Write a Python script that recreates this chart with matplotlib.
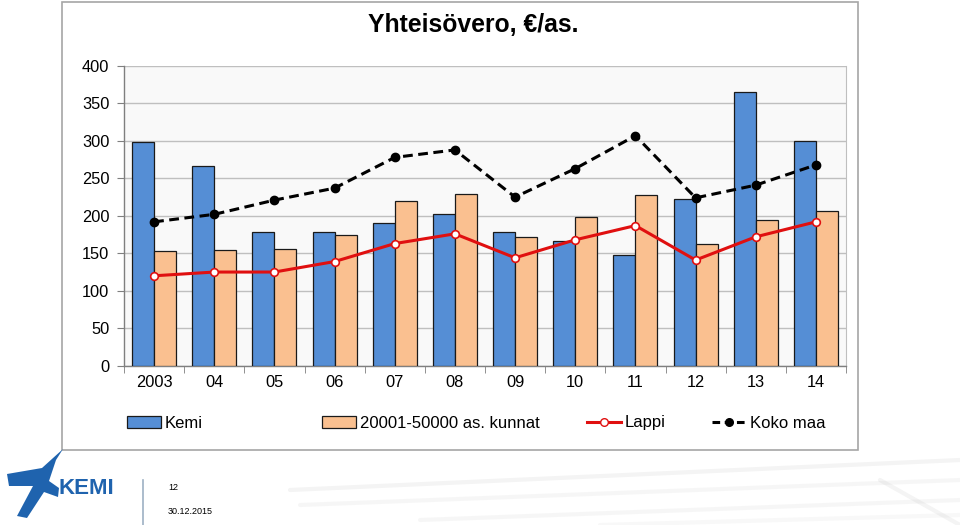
import matplotlib
matplotlib.use("Agg")
import matplotlib.pyplot as plt
import numpy as np
from matplotlib.patches import Rectangle, Polygon, Patch
from matplotlib.lines import Line2D

plt.rcParams['font.family'] = ['Liberation Sans', 'DejaVu Sans']

years = ["2003", "04", "05", "06", "07", "08", "09", "10", "11", "12", "13", "14"]
kemi = [299, 267, 178, 178, 190, 202, 179, 166, 148, 222, 365, 300]
kunnat = [153, 155, 156, 174, 220, 229, 172, 199, 228, 163, 194, 207]
lappi = [120, 125, 125, 139, 163, 176, 144, 168, 187, 141, 172, 192]
koko = [192, 202, 221, 237, 278, 288, 225, 263, 307, 224, 241, 268]

title = "Yhteisövero, €/as."
series_names = ["Kemi", "20001-50000 as. kunnat", "Lappi", "Koko maa"]

W, H = 960, 525
fig = plt.figure(figsize=(W / 100, H / 100), dpi=100)

def fx(x):
    return x / W

def fy(y):
    return 1 - y / H

# chart frame
fig.patches.append(Rectangle((fx(62), fy(450)), fx(858) - fx(62), fy(2) - fy(450),
                             transform=fig.transFigure, fill=False,
                             edgecolor='#A6A6A6', linewidth=1.2, zorder=0))

ax = fig.add_axes([fx(124), fy(365.7), fx(846) - fx(124), fy(66) - fy(365.7)])
ax.set_facecolor('#F9F9F9')

x = np.arange(len(years))
bw = 0.366
ax.bar(x - bw / 2, kemi, width=bw, color='#558ED5', edgecolor='#1A1A1A', linewidth=0.9, zorder=3)
ax.bar(x + bw / 2, kunnat, width=bw, color='#FAC090', edgecolor='#1A1A1A', linewidth=0.9, zorder=3)
ax.plot(x, lappi, color='#E01010', linewidth=2.2, marker='o', markersize=5.5,
        markerfacecolor='white', markeredgecolor='#E01010', markeredgewidth=1.2, zorder=5)
ax.plot(x, koko, color='black', linewidth=2.2, linestyle=(0, (3.2, 1.8)), marker='o',
        markersize=6, markerfacecolor='black', markeredgecolor='black', zorder=6)

ax.set_xlim(-0.5, len(years) - 0.5)
ax.set_ylim(0, 400)
ax.set_yticks(np.arange(0, 401, 50))
ax.yaxis.grid(True, color='#BFBFBF', linewidth=1.0, zorder=0)
ax.set_axisbelow(True)
ax.set_xticks(x)
ax.set_xticklabels(years)
ax.set_xticks(np.arange(-0.5, len(years), 1), minor=True)
ax.tick_params(axis='x', which='major', length=0, labelsize=11.8, pad=7, colors='black')
ax.tick_params(axis='x', which='minor', length=5, color='#7F7F7F', direction='out')
ax.tick_params(axis='y', which='major', length=5, color='#7F7F7F', labelsize=11.8, pad=5.5)
for s in ['left', 'bottom']:
    ax.spines[s].set_color('#7F7F7F')
    ax.spines[s].set_linewidth(1.0)
ax.spines['right'].set_color('#BFBFBF')
ax.spines['top'].set_visible(False)

fig.text(fx(473), fy(25), title, ha='center', va='center', fontsize=17.8, fontweight='bold')

# legend entries
handles = [
    Patch(facecolor='#558ED5', edgecolor='#1A1A1A', linewidth=0.9),
    Patch(facecolor='#FAC090', edgecolor='#1A1A1A', linewidth=0.9),
    Line2D([], [], color='#E01010', linewidth=2.2, marker='o', markersize=5.5,
           markerfacecolor='white', markeredgecolor='#E01010'),
    Line2D([], [], color='black', linewidth=2.2, linestyle=(0, (2.5, 1.5)), marker='o',
           markersize=5.5, markerfacecolor='black'),
]
lx = [127, 322, 587, 712]
for h, name, px in zip(handles, series_names, lx):
    fig.legend([h], [name], loc='center left', bbox_to_anchor=(fx(px), fy(423)),
               frameon=False, fontsize=12, handlelength=2.05, handletextpad=0.2,
               borderpad=0, borderaxespad=0)

# footer: logo
logo = Polygon([(fx(63), fy(449)), (fx(42), fy(468)), (fx(7), fy(474)), (fx(9), fy(486)),
                (fx(33), fy(486)), (fx(17), fy(516)), (fx(27), fy(518)), (fx(44), fy(492)),
                (fx(58), fy(497)), (fx(59), fy(488)), (fx(49), fy(481)), (fx(56), fy(460))],
               closed=True, transform=fig.transFigure, facecolor='#1F63AE', edgecolor='none')
fig.patches.append(logo)
fig.text(fx(59), fy(489), "KEMI", ha='left', va='center', fontsize=16, fontweight='bold', color='#1F63AE')
fig.lines.append(Line2D([fx(143), fx(143)], [fy(480), fy(525)], transform=fig.transFigure,
                        color='#9DB0C4', linewidth=1.2))
fig.text(fx(168), fy(488), "12", ha='left', va='center', fontsize=6.5)
fig.text(fx(168), fy(511), "30.12.2015", ha='left', va='center', fontsize=6.5)

# faint decorative swooshes
for (x0, y0, x1, y1, a) in [(290, 490, 960, 460, 0.2), (300, 505, 960, 480, 0.15),
                            (420, 520, 960, 500, 0.15), (600, 525, 960, 515, 0.12),
                            (880, 480, 960, 525, 0.2)]:
    fig.lines.append(Line2D([fx(x0), fx(x1)], [fy(y0), fy(y1)], transform=fig.transFigure,
                            color='#C8C8C8', linewidth=3, alpha=a, solid_capstyle='round'))

fig.savefig("out.png", dpi=100)
